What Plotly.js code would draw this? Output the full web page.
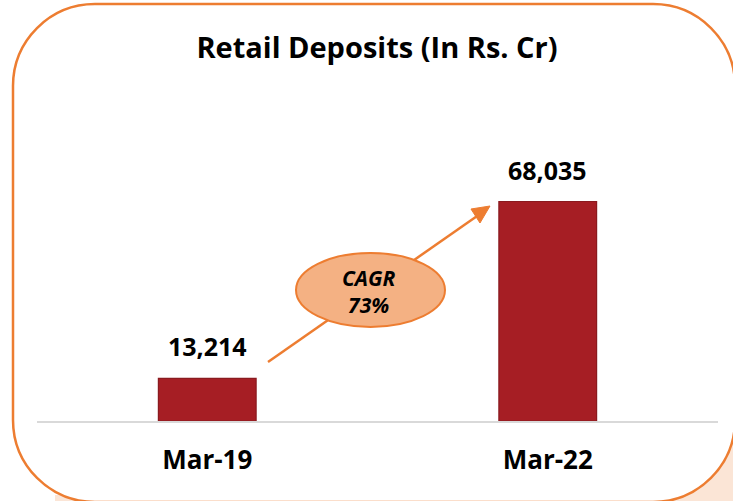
<!DOCTYPE html>
<html>
<head>
<meta charset="utf-8">
<script src="https://cdn.plot.ly/plotly-3.0.1.min.js"></script>
<style>html,body{margin:0;padding:0;background:#fff;}#chart{width:733px;height:501px;}</style>
</head>
<body>
<div id="chart"></div>
<script>
const chartTitle = 'Retail Deposits (In Rs. Cr)';
const categories = ['Mar-19', 'Mar-22'];
const deposits = [13214, 68035];
const cagrLines = ['CAGR', '73%'];

const W = 733, H = 501;
const FONT = '"Open Sans", sans-serif';
const px = x => x / W;
const py = y => 1 - y / H;
const P = (x, y) => px(x).toFixed(5) + ',' + py(y).toFixed(5);

function roundRect(L, T, R, B, r) {
  const k = 0.5523 * r;
  return 'M' + P(L + r, T) + ' L' + P(R - r, T) +
    ' C' + P(R - r + k, T) + ' ' + P(R, T + r - k) + ' ' + P(R, T + r) +
    ' L' + P(R, B - r) +
    ' C' + P(R, B - r + k) + ' ' + P(R - r + k, B) + ' ' + P(R - r, B) +
    ' L' + P(L + r, B) +
    ' C' + P(L + r - k, B) + ' ' + P(L, B - r + k) + ' ' + P(L, B - r) +
    ' L' + P(L, T + r) +
    ' C' + P(L, T + r - k) + ' ' + P(L + r - k, T) + ' ' + P(L + r, T) + ' Z';
}

const fmt = v => v.toLocaleString('en-US');

const bars = {
  type: 'bar',
  x: categories,
  y: deposits,
  width: 0.287,
  marker: { color: '#A61E24', line: { color: '#8A1A1F', width: 1.2 } },
  hoverinfo: 'skip'
};

const valueAnnotations = categories.map((c, i) => ({
  x: c, y: deposits[i], xref: 'x', yref: 'y',
  text: '<b>' + fmt(deposits[i]) + '</b>',
  showarrow: false, yanchor: 'bottom', yshift: 13,
  font: { family: FONT, size: 25, color: '#000' }
}));

const layout = {
  width: W, height: H,
  margin: { l: 0, r: 0, t: 0, b: 0 },
  paper_bgcolor: '#ffffff',
  plot_bgcolor: 'rgba(0,0,0,0)',
  showlegend: false,
  title: {
    text: '<b>' + chartTitle + '</b>',
    x: px(377), xref: 'paper', xanchor: 'center',
    y: py(48), yref: 'paper', yanchor: 'middle',
    font: { family: FONT, size: 29, color: '#000' }
  },
  xaxis: {
    domain: [px(37), px(718)],
    range: [-0.5, 1.5],
    type: 'category',
    showgrid: false, zeroline: false,
    showline: true, linecolor: '#D9D9D9', linewidth: 2,
    ticks: '', ticklabelstandoff: 15,
    tickfont: { family: FONT, size: 26, color: '#000', weight: 'bold' },
    fixedrange: true
  },
  yaxis: {
    domain: [py(421), py(150)],
    range: [0, 84000],
    visible: false, showgrid: false, zeroline: false,
    fixedrange: true
  },
  shapes: [
    { type: 'rect', xref: 'paper', yref: 'paper', layer: 'below',
      x0: px(55), x1: px(740), y0: py(495), y1: py(510),
      fillcolor: '#FBE5D6', line: { width: 0 } },
    { type: 'rect', xref: 'paper', yref: 'paper', layer: 'below',
      x0: px(640), x1: px(740), y0: py(438), y1: py(510),
      fillcolor: '#FBE5D6', line: { width: 0 } },
    { type: 'path', xref: 'paper', yref: 'paper', layer: 'below',
      path: roundRect(13, 4, 735, 502, 82),
      fillcolor: '#ffffff', line: { color: '#ED7D31', width: 2.5 } },
    { type: 'path', xref: 'paper', yref: 'paper', layer: 'above',
      path: 'M' + P(268, 362) + ' L' + P(480, 214),
      line: { color: '#ED7D31', width: 2.5 } },
    { type: 'path', xref: 'paper', yref: 'paper', layer: 'above',
      path: 'M' + P(490, 206) + ' L' + P(471, 209) + ' L' + P(480, 223) + ' Z',
      fillcolor: '#ED7D31', line: { color: '#ED7D31', width: 1 } },
    { type: 'circle', xref: 'paper', yref: 'paper', layer: 'above',
      x0: px(296), x1: px(445), y0: py(327), y1: py(253),
      fillcolor: '#F4B183', line: { color: '#ED7D31', width: 2 } }
  ],
  annotations: valueAnnotations.concat([{
    xref: 'paper', yref: 'paper', x: px(369), y: py(291),
    text: cagrLines.map(s => '<b><i>' + s + '</i></b>').join('<br>'),
    showarrow: false, xanchor: 'center', yanchor: 'middle',
    font: { family: FONT, size: 21, color: '#000' }
  }])
};

Plotly.newPlot('chart', [bars], layout, { displayModeBar: false, staticPlot: true });
</script>
</body>
</html>
